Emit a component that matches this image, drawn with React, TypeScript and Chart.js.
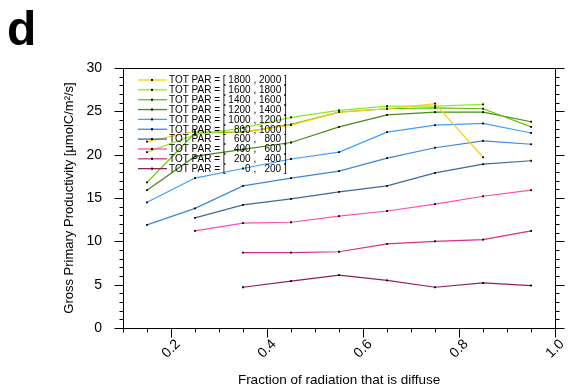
import React, { useEffect, useRef } from "react";
import { Chart, registerables } from "chart.js";

Chart.register(...registerables);

const xValues = [0.15, 0.25, 0.35, 0.45, 0.55, 0.65, 0.75, 0.85, 0.95];

const par1800 = [21.5, 22.7, 22.6, 23.4, 24.9, 25.3, 25.9, 19.7, null];
const par1600 = [20.3, 22.3, 23.1, 24.3, 25.1, 25.6, 25.6, 25.8, null];
const par1400 = [16.8, 22.5, 22.6, 23.5, 24.9, 25.3, 25.4, 25.3, 23.2];
const par1200 = [15.9, 19.8, 20.6, 21.4, 23.2, 24.6, 24.9, 24.9, 23.8];
const par1000 = [14.5, 17.3, 18.4, 19.5, 20.3, 22.6, 23.4, 23.6, 22.5];
const par800 = [11.9, 13.8, 16.4, 17.3, 18.1, 19.6, 20.8, 21.6, 21.2];
const par600 = [null, 12.7, 14.2, 14.9, 15.7, 16.4, 17.9, 18.9, 19.3];
const par400 = [null, 11.2, 12.1, 12.2, 12.9, 13.5, 14.3, 15.2, 15.9];
const par200 = [null, null, 8.7, 8.7, 8.8, 9.7, 10.0, 10.2, 11.2];
const par0 = [null, null, 4.7, 5.4, 6.1, 5.5, 4.7, 5.2, 4.9];

const seriesLabels = [
  "TOT PAR = [ 1800 , 2000 ]",
  "TOT PAR = [ 1600 , 1800 ]",
  "TOT PAR = [ 1400 , 1600 ]",
  "TOT PAR = [ 1200 , 1400 ]",
  "TOT PAR = [ 1000 , 1200 ]",
  "TOT PAR = [   800 , 1000 ]",
  "TOT PAR = [   600 ,   800 ]",
  "TOT PAR = [   400 ,   600 ]",
  "TOT PAR = [   200 ,   400 ]",
  "TOT PAR = [       0 ,   200 ]",
];
const seriesValues = [par1800, par1600, par1400, par1200, par1000, par800, par600, par400, par200, par0];
const seriesColors = [
  "#FFCC11",
  "#88EE22",
  "#5FC000",
  "#4A8A1A",
  "#3AA0FF",
  "#3C86D8",
  "#3F6899",
  "#FF4FA8",
  "#D8307F",
  "#8E2060",
];

const xTickLabels = [0.2, 0.4, 0.6, 0.8, 1.0];
const yTickLabels = [0, 5, 10, 15, 20, 25, 30];

const FONT = "'Liberation Sans', Arial, Helvetica, sans-serif";

const framePlugin = {
  id: "framePlugin",
  afterDraw(chart: any) {
    const { ctx, chartArea } = chart;
    const { left, right, top, bottom } = chartArea;
    const xs = chart.scales.x;
    const ys = chart.scales.y;
    ctx.save();
    // legend
    ctx.font = `10px ${FONT}`;
    ctx.textBaseline = "middle";
    ctx.textAlign = "left";
    seriesLabels.forEach((lab, i) => {
      const y = 80 + i * 9.85;
      ctx.strokeStyle = seriesColors[i];
      ctx.lineWidth = 1.3;
      ctx.beginPath();
      ctx.moveTo(138, y);
      ctx.lineTo(167, y);
      ctx.stroke();
      ctx.fillStyle = "#000";
      ctx.fillRect(151, y - 1, 2, 2);
      ctx.fillText(lab, 169, y + 0.5);
    });
    // frame
    ctx.strokeStyle = "#000";
    ctx.lineWidth = 1;
    const L = Math.round(left) + 0.5;
    const R = Math.round(right) + 0.5;
    const T = Math.round(top) + 0.5;
    const B = Math.round(bottom) + 0.5;
    ctx.beginPath();
    ctx.rect(L, T, R - L, B - T);
    ctx.stroke();
    // y ticks
    ctx.beginPath();
    for (let v = 0; v <= 30; v++) {
      const len = v % 5 === 0 ? 9 : 4;
      const py = Math.round(ys.getPixelForValue(v)) + 0.5;
      ctx.moveTo(L, py);
      ctx.lineTo(L - len, py);
      ctx.moveTo(R, py);
      ctx.lineTo(R + len, py);
    }
    // x ticks
    for (let k = 2; k <= 20; k++) {
      const v = k * 0.05;
      const len = k % 4 === 0 ? 9 : 4;
      const px = Math.round(xs.getPixelForValue(v)) + 0.5;
      ctx.moveTo(px, B);
      ctx.lineTo(px, B + len);
    }
    ctx.stroke();
    // panel letter
    ctx.fillStyle = "#000";
    ctx.font = `bold 48px ${FONT}`;
    ctx.textBaseline = "alphabetic";
    ctx.fillText("d", 7, 45);
    ctx.restore();
  },
};

export default function App() {
  const ref = useRef<HTMLCanvasElement | null>(null);
  useEffect(() => {
    if (!ref.current) return;
    const datasets = seriesValues.map((vals, i) => ({
      label: seriesLabels[i],
      data: xValues.map((x, j) => ({ x, y: vals[j] })),
      borderColor: seriesColors[i],
      backgroundColor: seriesColors[i],
      borderWidth: 1.2,
      pointStyle: "rect",
      pointRadius: 1.3,
      pointBorderWidth: 0,
      pointBackgroundColor: "#000",
      pointBorderColor: "#000",
      tension: 0,
      spanGaps: false,
    }));
    const chart = new Chart(ref.current, {
      type: "line",
      data: { datasets },
      options: {
        responsive: false,
        animation: false,
        layout: { padding: { top: 68, right: 18, left: 0, bottom: 0 } },
        plugins: { legend: { display: false }, tooltip: { enabled: false } },
        scales: {
          x: {
            type: "linear",
            min: 0.1,
            max: 1.0,
            afterFit(s: any) {
              s.height = 64;
            },
            afterBuildTicks(s: any) {
              s.ticks = xTickLabels.map((v) => ({ value: v }));
            },
            ticks: {
              autoSkip: false,
              minRotation: 45,
              maxRotation: 45,
              padding: 8,
              labelOffset: 7,
              color: "#000",
              font: { family: FONT, size: 14 },
              callback: (v: any) => Number(v).toFixed(1),
            },
            grid: { display: false, drawTicks: false },
            border: { display: false },
            title: {
              display: true,
              text: "Fraction of radiation that is diffuse",
              color: "#000",
              font: { family: FONT, size: 13.5 },
              padding: { top: 0, bottom: 4 },
            },
          },
          y: {
            type: "linear",
            min: 0,
            max: 30,
            afterFit(s: any) {
              s.width = 123;
            },
            afterBuildTicks(s: any) {
              s.ticks = yTickLabels.map((v) => ({ value: v }));
            },
            ticks: {
              autoSkip: false,
              padding: 21,
              color: "#000",
              font: { family: FONT, size: 14 },
            },
            grid: { display: false, drawTicks: false },
            border: { display: false },
            title: {
              display: true,
              text: "Gross Primary Productivity [\u03BCmolC/m\u00B2/s]",
              color: "#000",
              font: { family: FONT, size: 13 },
              padding: { top: 62, bottom: 0 },
            },
          },
        },
      },
      plugins: [framePlugin],
    } as any);
    return () => chart.destroy();
  }, []);
  return (
    <div style={{ position: "fixed", left: 0, top: 0, width: 575, height: 392, background: "#fff" }}>
      <canvas ref={ref} width={575} height={392} style={{ width: 575, height: 392, display: "block" }} />
    </div>
  );
}
